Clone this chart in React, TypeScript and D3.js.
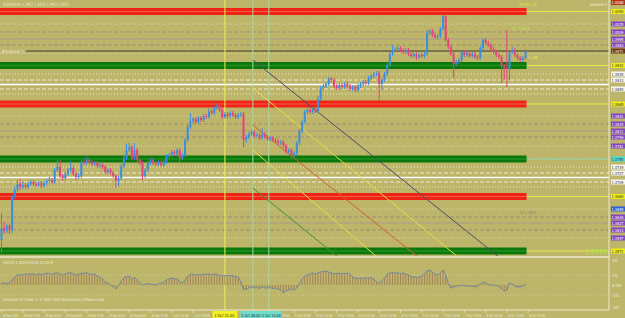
import React from "react";
import * as d3 from "d3";

// ---------------- DATA ----------------
const symbolTitle = "EURUSD,H1";
const firstOpen = 1.3593;
const closes = [
  1.3617, 1.3611, 1.3621, 1.3613, 1.3679, 1.3693, 1.3705, 1.3699, 1.3703, 1.3699,
  1.3705, 1.3709, 1.3705, 1.3703, 1.3707, 1.3701, 1.3707, 1.3711, 1.3713, 1.3709,
  1.3733, 1.3739, 1.3721, 1.3717, 1.3725, 1.3733, 1.3737, 1.3725, 1.3719, 1.3721,
  1.3749, 1.3747, 1.3753, 1.3749, 1.3745, 1.3747, 1.3741, 1.3743, 1.3739, 1.3729,
  1.3733, 1.3727, 1.3721, 1.3711, 1.3717, 1.3741, 1.3757, 1.3773, 1.3779, 1.3757,
  1.3773, 1.3753, 1.3747, 1.3721, 1.3733, 1.3747, 1.3753, 1.3747, 1.3745, 1.3749,
  1.3743, 1.3749, 1.3761, 1.3763, 1.3769, 1.3765, 1.3773, 1.3757, 1.3763, 1.3793,
  1.3819, 1.3831, 1.3835, 1.3829, 1.3837, 1.3833, 1.3841, 1.3839, 1.3851, 1.3847,
  1.3857, 1.3861, 1.3853, 1.3839, 1.3845, 1.3841, 1.3847, 1.3843, 1.3839, 1.3843,
  1.3845, 1.3793, 1.3799, 1.3805, 1.3809, 1.3801, 1.3803, 1.3797, 1.3805, 1.3799,
  1.3795, 1.3797, 1.3793, 1.3791, 1.3787, 1.3789, 1.3781, 1.3769, 1.3773, 1.3763,
  1.3767, 1.3787, 1.3811, 1.3829, 1.3849, 1.3853, 1.3849, 1.3855, 1.3851, 1.3875,
  1.3897, 1.3901, 1.3905, 1.3915, 1.3913, 1.3901, 1.3897, 1.3903, 1.3899, 1.3905,
  1.3901, 1.3895, 1.3899, 1.3893, 1.3901, 1.3905, 1.3909, 1.3907, 1.3917, 1.3921,
  1.3925, 1.3927, 1.3905, 1.3913, 1.3925, 1.3943, 1.3965, 1.3973, 1.3975, 1.3977,
  1.3973, 1.3969, 1.3973, 1.3965, 1.3961, 1.3965, 1.3959, 1.3963, 1.3961, 1.3965,
  1.4007, 1.4011, 1.4003, 1.3999, 1.4001, 1.4015, 1.4041, 1.3993, 1.3979, 1.3965,
  1.3945, 1.3949, 1.3953, 1.3969, 1.3963, 1.3967, 1.3961, 1.3965, 1.3959, 1.3957,
  1.3977, 1.3993, 1.3987, 1.3983, 1.3975, 1.3969, 1.3963, 1.3959, 1.3941, 1.3937,
  1.3935, 1.3969, 1.3973, 1.3963, 1.3957, 1.3953, 1.3957, 1.3971,
];
const highs = [
  1.3647, 1.3629, 1.3625, 1.3625, 1.3683, 1.3701, 1.3713, 1.3715, 1.3709, 1.3707,
  1.3709, 1.3713, 1.3713, 1.3709, 1.3711, 1.3711, 1.3711, 1.3715, 1.3719, 1.3717,
  1.3737, 1.3753, 1.3753, 1.3725, 1.3729, 1.3737, 1.3751, 1.3741, 1.3729, 1.3727,
  1.3753, 1.3755, 1.3759, 1.3757, 1.3753, 1.3751, 1.3751, 1.3747, 1.3747, 1.3743,
  1.3737, 1.3737, 1.3731, 1.3725, 1.3721, 1.3745, 1.3761, 1.3785, 1.3787, 1.3783,
  1.3787, 1.3777, 1.3757, 1.3751, 1.3737, 1.3751, 1.3757, 1.3757, 1.3751, 1.3753,
  1.3753, 1.3753, 1.3765, 1.3767, 1.3773, 1.3773, 1.3777, 1.3777, 1.3767, 1.3797,
  1.3823, 1.3847, 1.3839, 1.3839, 1.3841, 1.3841, 1.3845, 1.3845, 1.3857, 1.3855,
  1.3861, 1.3867, 1.3865, 1.3857, 1.3849, 1.3849, 1.3851, 1.3851, 1.3847, 1.3847,
  1.3849, 1.3849, 1.3803, 1.3809, 1.3813, 1.3813, 1.3807, 1.3807, 1.3817, 1.3809,
  1.3803, 1.3801, 1.3801, 1.3797, 1.3795, 1.3793, 1.3793, 1.3785, 1.3777, 1.3777,
  1.3771, 1.3791, 1.3815, 1.3833, 1.3853, 1.3857, 1.3857, 1.3859, 1.3859, 1.3881,
  1.3901, 1.3905, 1.3909, 1.3919, 1.3919, 1.3917, 1.3905, 1.3907, 1.3907, 1.3909,
  1.3909, 1.3905, 1.3903, 1.3903, 1.3905, 1.3909, 1.3913, 1.3913, 1.3921, 1.3925,
  1.3929, 1.3931, 1.3931, 1.3917, 1.3929, 1.3947, 1.3969, 1.3983, 1.3979, 1.3981,
  1.3981, 1.3977, 1.3977, 1.3977, 1.3969, 1.3969, 1.3969, 1.3967, 1.3967, 1.3969,
  1.4013, 1.4015, 1.4015, 1.4007, 1.4005, 1.4019, 1.4043, 1.4043, 1.3997, 1.3983,
  1.3969, 1.3953, 1.3957, 1.3973, 1.3973, 1.3971, 1.3971, 1.3969, 1.3969, 1.3963,
  1.3981, 1.3997, 1.3997, 1.3991, 1.3987, 1.3979, 1.3973, 1.3967, 1.3963, 1.3945,
  1.4013, 1.3973, 1.3979, 1.3977, 1.3967, 1.3961, 1.3961, 1.3975,
];
const lows = [
  1.3567, 1.3605, 1.3607, 1.3605, 1.3607, 1.3675, 1.3689, 1.3693, 1.3695, 1.3695,
  1.3695, 1.3701, 1.3701, 1.3699, 1.3699, 1.3697, 1.3697, 1.3703, 1.3707, 1.3705,
  1.3705, 1.3729, 1.3717, 1.3711, 1.3713, 1.3721, 1.3729, 1.3721, 1.3713, 1.3715,
  1.3717, 1.3743, 1.3743, 1.3745, 1.3741, 1.3741, 1.3737, 1.3737, 1.3735, 1.3725,
  1.3725, 1.3723, 1.3717, 1.3697, 1.3701, 1.3713, 1.3737, 1.3753, 1.3769, 1.3753,
  1.3753, 1.3749, 1.3743, 1.3713, 1.3717, 1.3729, 1.3743, 1.3743, 1.3741, 1.3741,
  1.3739, 1.3739, 1.3745, 1.3757, 1.3759, 1.3761, 1.3761, 1.3747, 1.3753, 1.3759,
  1.3789, 1.3815, 1.3827, 1.3825, 1.3825, 1.3829, 1.3829, 1.3835, 1.3835, 1.3843,
  1.3843, 1.3853, 1.3849, 1.3835, 1.3835, 1.3837, 1.3837, 1.3839, 1.3835, 1.3835,
  1.3839, 1.3779, 1.3787, 1.3795, 1.3801, 1.3797, 1.3797, 1.3793, 1.3793, 1.3795,
  1.3791, 1.3791, 1.3789, 1.3787, 1.3783, 1.3783, 1.3777, 1.3765, 1.3765, 1.3757,
  1.3757, 1.3763, 1.3783, 1.3807, 1.3825, 1.3845, 1.3845, 1.3845, 1.3847, 1.3847,
  1.3871, 1.3893, 1.3897, 1.3901, 1.3909, 1.3897, 1.3893, 1.3893, 1.3895, 1.3895,
  1.3897, 1.3891, 1.3891, 1.3889, 1.3889, 1.3897, 1.3901, 1.3903, 1.3903, 1.3913,
  1.3917, 1.3921, 1.3873, 1.3893, 1.3909, 1.3921, 1.3939, 1.3961, 1.3969, 1.3971,
  1.3969, 1.3965, 1.3965, 1.3961, 1.3957, 1.3957, 1.3953, 1.3955, 1.3957, 1.3957,
  1.3961, 1.4003, 1.3999, 1.3995, 1.3995, 1.3997, 1.4011, 1.3989, 1.3975, 1.3961,
  1.3917, 1.3941, 1.3945, 1.3949, 1.3959, 1.3959, 1.3957, 1.3957, 1.3955, 1.3953,
  1.3953, 1.3973, 1.3983, 1.3979, 1.3971, 1.3965, 1.3959, 1.3955, 1.3907, 1.3913,
  1.3899, 1.3913, 1.3965, 1.3959, 1.3953, 1.3949, 1.3949, 1.3953,
];
const oscValues = [
  4, 4, 3, 5, 10, 16, 20, 21, 20, 22,
  21, 23, 22, 20, 22, 21, 22, 24, 23, 21,
  24, 25, 22, 20, 22, 24, 25, 22, 20, 21,
  24, 23, 25, 22, 21, 22, 18, 16, 12, 6,
  4, 0, -4, -8, -2, 8, 14, 17, 18, 12,
  15, 10, 5, 0, 1, 3, 2, 1, 0, 2,
  4, 6, 10, 12, 14, 12, 13, 6, 4, 10,
  18, 21, 22, 20, 21, 20, 22, 21, 22, 20,
  22, 21, 19, 18, 19, 18, 19, 18, 17, 16,
  6, -10, -8, -6, -4, -6, -5, -7, -4, -6,
  -6, -5, -7, -6, -8, -10, -16, -12, -10, -8,
  -10, -6, 2, 12, 18, 20, 22, 24, 22, 24,
  26, 27, 28, 26, 24, 22, 23, 24, 22, 23,
  24, 22, 16, 14, 13, 14, 13, 14, 14, 15,
  12, 6, 4, 8, 14, 22, 24, 25, 24, 24,
  23, 24, 22, 20, 17, 16, 15, 16, 18, 22,
  28, 30, 26, 22, 20, 24, 30, 20, 2, -6,
  -4, -2, -2, 0, -2, -1, -3, -2, -4, -2,
  2, 6, 4, 1, 0, 0, -1, -2, -8, -12,
  -10, 4, 2, -2, -4, -4, -2, 2,
];

const timeLabelBars = [0, 8, 16, 24, 32, 40, 48, 56, 64, 72, 102, 110, 118, 126, 134, 142, 150, 158, 166, 174, 182, 190, 198];
const timeLabels = [
  "28 Sep 2010", "28 Sep 17:00", "29 Sep 01:00", "29 Sep 09:00", "29 Sep 17:00", "30 Sep 01:00",
  "30 Sep 09:00", "30 Sep 17:00", "1 Oct 01:00", "1 Oct 09:00", "4 Oct 19:00", "5 Oct 03:00",
  "5 Oct 11:00", "5 Oct 19:00", "6 Oct 03:00", "6 Oct 11:00", "6 Oct 19:00", "7 Oct 03:00",
  "7 Oct 11:00", "7 Oct 19:00", "8 Oct 03:00", "8 Oct 11:00", "8 Oct 19:00",
];

// horizontal levels
const redBands = [1.405, 1.3865, 1.368];
const greenBands = [1.3942, 1.3755, 1.3571];
const pivotLevels = [
  1.4025, 1.4009, 1.3995, 1.3983, 1.3966,
  1.3841, 1.3825, 1.3811, 1.3799, 1.3781,
  1.3655, 1.3639, 1.3627, 1.3613, 1.3597,
];
const pivotKinds = ["dot", "dash", "solid", "dash", "dot"];
const innerLevels = [
  1.3925, 1.3913, 1.3904, 1.3895, 1.3885,
  1.3739, 1.3727, 1.3718, 1.3709, 1.3699,
];
const innerKinds = ["dot", "dash", "white", "dash", "dot"];
const markerLevel = 1.3971;
const markerName = "Breakout 1";

// vertical lines (bar positions) and their axis captions
const vLineBars = [84, 94.5, 100.5];
const vLineCaptions = ["1 Oct 21:00", "4 Oct 08:00", "4 Oct 14:00"];

// trend lines: start bar, start price, end bar, end price
const trendStartBar = [94.5, 94.5, 94.5, 94.5, 94.5];
const trendStartPrice = [1.3953, 1.3897, 1.3823, 1.3773, 1.3697];
const trendEndBar = [187, 171.6, 156.6, 141.2, 126.5];
const trendEndPrice = [1.3559, 1.3559, 1.3559, 1.3559, 1.3559];

const oscTicks = [50, 20, 0, -20, -50];
const oscName = "RSI(14) 1.3079  RSI(14) 53.1079";
const copyright = "Interbank FX Trader 4, \u00a9 2001-2010 MetaQuotes Software Corp.";

// ---------------- STYLE ----------------
const BG = "#bdb56a";
const BULL = "#3a8fe0";
const BEAR = "#e4437c";
const FG = "#eeeede";
const FONT = "'DejaVu Sans', Verdana, sans-serif";
const trendColors = ["#4a4c68", "#e6dc4a", "#d2602c", "#e6dc4a", "#3f8f3a"];
const vLineColors = ["#f2ee5a", "#a9d9a4", "#a9d9a4"];

const PLOT_R = 609;
const MAIN_B = 256;

export default function App() {
  const lastBar = closes.length - 1;
  const x = d3.scaleLinear().domain([0, lastBar]).range([1.5, 525.5]);
  const y = d3.scaleLinear().domain([1.3561, 1.4073]).range([MAIN_B, 0]);
  const yo = d3.scaleLinear().domain([-50, 50]).range([310, 260]);
  const opens = closes.map((c, i) => (i === 0 ? firstOpen : closes[i - 1]));
  const bandEnd = x(lastBar) + 1;

  const oscLine = d3
    .line<number>()
    .x((_, i) => x(i))
    .y((v) => yo(v));

  const fmt = d3.format(".4f");

  const pivotStyle = (k: string) =>
    k === "dot"
      ? { stroke: "#ddd4a8", dash: "1,2", w: 1 }
      : k === "dash"
      ? { stroke: "#9d8d74", dash: "4,2", w: 1 }
      : { stroke: "#ab9a88", dash: "", w: 1.2 };
  const innerStyle = (k: string) =>
    k === "dot"
      ? { stroke: "#eee8c8", dash: "1,2", w: 1 }
      : k === "dash"
      ? { stroke: "#efe9cc", dash: "4,2", w: 1 }
      : { stroke: "#ffffff", dash: "", w: 1.3 };

  const axisBoxes: { p: number; fill: string; text: string }[] = [];
  pivotLevels.forEach((p, i) => {
    axisBoxes.push({ p, fill: i === 10 ? "#2f5fd8" : "#8444c4", text: "#ffffff" });
  });
  innerLevels.forEach((p) => axisBoxes.push({ p, fill: "#f6f6ee", text: "#333" }));
  redBands.forEach((p) => axisBoxes.push({ p, fill: "#f2ee10", text: "#333" }));
  greenBands.forEach((p, i) =>
    axisBoxes.push({ p, fill: i === 1 ? "#44e0d0" : "#f2ee10", text: "#333" })
  );
  axisBoxes.push({ p: markerLevel, fill: "#6a3418", text: "#ffffff" });
  axisBoxes.push({ p: y.invert(2.5), fill: "#b0381a", text: "#ffffff" });

  // keep axis boxes from overlapping
  const sortedBoxes = [...axisBoxes].sort((a, b) => y(a.p) - y(b.p));
  const shownBoxes: typeof axisBoxes = [];
  sortedBoxes.forEach((b) => {
    const prev = shownBoxes[shownBoxes.length - 1];
    if (!prev || y(b.p) - y(prev.p) >= 5.2) shownBoxes.push(b);
  });
  const priceTicks = y
    .ticks(10)
    .filter((t) => shownBoxes.every((b) => Math.abs(y(b.p) - y(t)) > 5.5) && y(t) > 4 && y(t) < 252);

  const last = lastBar;
  const title = `${symbolTitle} ${fmt(opens[last])} ${fmt(highs[last])} ${fmt(lows[last])} ${fmt(closes[last])}`;

  // caption boxes for vertical lines: first yellow, the two green ones share one cyan box
  const capY = x(vLineBars[0]);
  const cyanL = x(vLineBars[1]) - 12.5;
  const cyanR = x(vLineBars[2]) + 12.5;
  const cyanMid = (cyanL + cyanR) / 2;

  return (
    <svg
      width={625}
      height={318}
      style={{ position: "absolute", left: 0, top: 0, display: "block" }}
      fontFamily={FONT}
    >
      <defs>
        <clipPath id="mainClip">
          <rect x={0} y={0} width={PLOT_R} height={MAIN_B} />
        </clipPath>
      </defs>
      <rect x={0} y={0} width={625} height={318} fill={BG} />

      {/* horizontal level lines */}
      {pivotLevels.map((p, i) => {
        const s = pivotStyle(pivotKinds[i % 5]);
        return (
          <line key={"pv" + i} x1={0} x2={PLOT_R} y1={y(p)} y2={y(p)} stroke={s.stroke}
            strokeWidth={s.w} strokeDasharray={s.dash} />
        );
      })}
      {innerLevels.map((p, i) => {
        const s = innerStyle(innerKinds[i % 5]);
        return (
          <line key={"in" + i} x1={0} x2={PLOT_R} y1={y(p)} y2={y(p)} stroke={s.stroke}
            strokeWidth={s.w} strokeDasharray={s.dash} />
        );
      })}
      <line x1={26} x2={PLOT_R} y1={y(markerLevel)} y2={y(markerLevel)} stroke="#3a3828" strokeWidth={1} />
      <text x={2} y={y(markerLevel) + 1.6} fontSize={4.5} fill={FG} textLength={22} lengthAdjust="spacingAndGlyphs">{markerName}</text>

      {/* band continuation lines */}
      {redBands.map((p, i) => (
        <line key={"rl" + i} x1={0} x2={PLOT_R} y1={y(p)} y2={y(p)} stroke="#eee64a" strokeWidth={1} />
      ))}
      {greenBands.map((p, i) => (
        <line key={"gl" + i} x1={0} x2={PLOT_R} y1={y(p)} y2={y(p)}
          stroke={i === 1 ? "#7fe6dc" : "#eee64a"} strokeWidth={1}
          strokeDasharray={i === 1 ? "2,1" : ""} />
      ))}

      {/* bands */}
      {redBands.map((p, i) => (
        <g key={"rb" + i}>
          <rect x={0} y={y(p) - 3.5} width={bandEnd} height={7} fill="#ee2414" />
          <line x1={0} x2={bandEnd} y1={y(p)} y2={y(p)} stroke="#fb5a48" strokeWidth={1.2} />
        </g>
      ))}
      {greenBands.map((p, i) => (
        <g key={"gb" + i}>
          <rect x={0} y={y(p) - 3.5} width={bandEnd} height={7} fill="#0b760b" />
          <line x1={0} x2={bandEnd} y1={y(p)} y2={y(p)} stroke="#1f921f" strokeWidth={1.5} />
        </g>
      ))}

      {/* vertical lines */}
      {vLineBars.map((b, i) => (
        <line key={"vl" + i} x1={x(b)} x2={x(b)} y1={0} y2={310} stroke={vLineColors[i]} strokeWidth={1} />
      ))}

      {/* trend lines */}
      <g clipPath="url(#mainClip)">
        {trendStartBar.map((b, i) => (
          <line key={"tl" + i} x1={x(b)} y1={y(trendStartPrice[i])} x2={x(trendEndBar[i])}
            y2={y(trendEndPrice[i])} stroke={trendColors[i]} strokeWidth={1} />
        ))}
      </g>

      {/* candles */}
      <g clipPath="url(#mainClip)">
        {closes.map((c, i) => {
          const o = opens[i];
          const col = c >= o ? BULL : BEAR;
          const cx = x(i);
          const yt = y(Math.max(o, c));
          const yb = y(Math.min(o, c));
          return (
            <g key={"c" + i}>
              <line x1={cx} x2={cx} y1={y(highs[i])} y2={y(lows[i])} stroke={col} strokeWidth={1} />
              <rect x={cx - 1} y={yt} width={2} height={Math.max(1, yb - yt)} fill={col} />
            </g>
          );
        })}
      </g>

      {/* chart texts */}
      <text x={3} y={5.5} fontSize={4.5} fill={FG} textLength={66} lengthAdjust="spacingAndGlyphs">{title}</text>
      <text x={519} y={6} fontSize={4.2} fill="#f2e84a" textLength={18} lengthAdjust="spacingAndGlyphs">20 03 1.41</text>
      <text x={590} y={6} fontSize={4.2} fill={FG} textLength={17} lengthAdjust="spacingAndGlyphs">breakeven 0</text>
      <text x={512} y={30} fontSize={4.2} fill="#c2e45a" textLength={18} lengthAdjust="spacingAndGlyphs">R2  1.4009</text>
      <text x={528} y={y(1.3958) + 1.5} fontSize={4.2} fill="#f2e84a">1.38</text>
      <text x={520} y={214} fontSize={4.2} fill="#8f8a76" textLength={16} lengthAdjust="spacingAndGlyphs">S3 1.3655</text>
      <text x={585} y={y(greenBands[2]) + 3} fontSize={7} fill="#a4f032" textLength={22} lengthAdjust="spacingAndGlyphs">1.3978</text>

      {/* panel frame */}
      <line x1={0} x2={PLOT_R} y1={257} y2={257} stroke="#eeead0" strokeWidth={1.5} />
      <line x1={0} x2={PLOT_R} y1={310} y2={310} stroke="#eeead0" strokeWidth={1} />
      <line x1={PLOT_R} x2={PLOT_R} y1={0} y2={310} stroke="#eeead0" strokeWidth={1} />

      {/* oscillator */}
      {[20, -20].map((v) => (
        <line key={"ol" + v} x1={0} x2={PLOT_R} y1={yo(v)} y2={yo(v)} stroke="#d4cc9c"
          strokeWidth={1} strokeDasharray="1,2" />
      ))}
      {oscValues.map((v, i) => (
        <line key={"h" + i} x1={x(i)} x2={x(i)} y1={yo(0)} y2={yo(v)} stroke="#a4825f" strokeWidth={1} />
      ))}
      <path d={oscLine(oscValues) || ""} fill="none" stroke="#7488a2" strokeWidth={1} />
      <text x={3} y={263.5} fontSize={4.2} fill={FG} textLength={50} lengthAdjust="spacingAndGlyphs">{oscName}</text>
      <text x={3} y={300.5} fontSize={4.2} fill={FG} textLength={102} lengthAdjust="spacingAndGlyphs">{copyright}</text>
      {oscTicks.map((t) => (
        <text key={"ot" + t} x={612} y={Math.min(309, yo(t) + 1.5)} fontSize={4.2} fill={FG}>
          {t === 0 ? "0.00" : String(t)}
        </text>
      ))}

      {/* price axis */}
      {priceTicks.map((t) => (
        <text key={"pt" + t} x={611.5} y={y(t) + 1.5} fontSize={4} fill={FG} textLength={12} lengthAdjust="spacingAndGlyphs">{fmt(t)}</text>
      ))}
      {shownBoxes.map((b, i) => (
        <g key={"ab" + i}>
          <rect x={611} y={y(b.p) - 2.5} width={14} height={5} fill={b.fill} />
          <text x={611.5} y={y(b.p) + 1.5} fontSize={4} fill={b.text} textLength={12} lengthAdjust="spacingAndGlyphs">{fmt(b.p)}</text>
        </g>
      ))}

      {/* time axis */}
      {timeLabelBars.map((b, i) => (
        <g key={"tx" + i}>
          <line x1={x(b)} x2={x(b)} y1={310} y2={313} stroke={FG} strokeWidth={0.6} />
          <text x={x(b) + 1} y={316.5} fontSize={4} fill={FG} textLength={16} lengthAdjust="spacingAndGlyphs">{timeLabels[i]}</text>
        </g>
      ))}
      <rect x={capY - 12.5} y={311} width={25} height={7} fill="#f4f020" />
      <text x={capY - 10.5} y={316.5} fontSize={4} fill="#2a2a2a" textLength={20} lengthAdjust="spacingAndGlyphs">{vLineCaptions[0]}</text>
      <rect x={cyanL} y={311} width={cyanR - cyanL} height={7} fill="#6fdccc" />
      <text x={cyanL + 1} y={316.5} fontSize={4} fill="#2a2a2a" textLength={19} lengthAdjust="spacingAndGlyphs">{vLineCaptions[1]}</text>
      <text x={cyanMid + 1} y={316.5} fontSize={4} fill="#2a2a2a" textLength={19} lengthAdjust="spacingAndGlyphs">{vLineCaptions[2]}</text>
    </svg>
  );
}
